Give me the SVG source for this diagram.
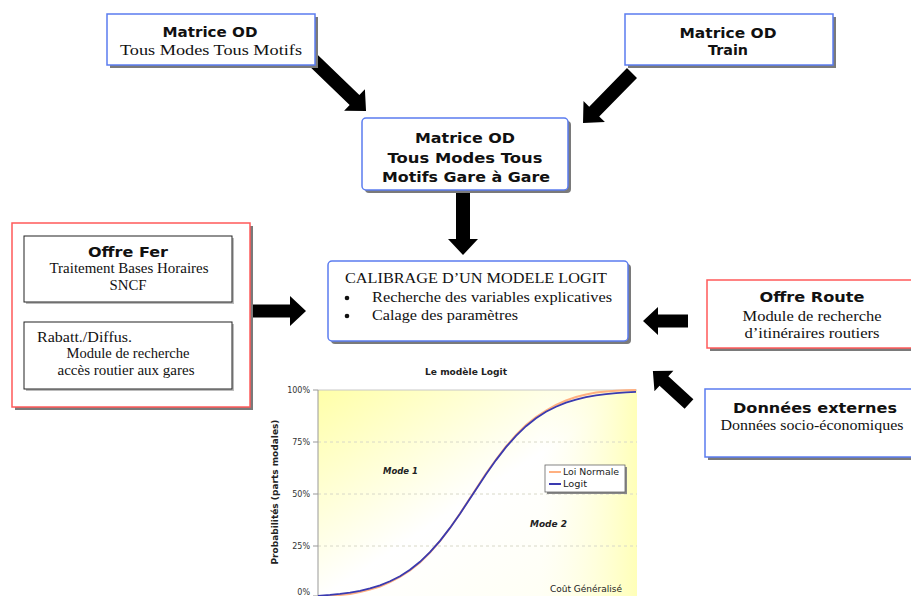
<svg xmlns="http://www.w3.org/2000/svg" width="911" height="596" viewBox="0 0 911 596">
<defs>
<style>
.bx{fill:#fff;stroke:#5b7cf0;stroke-width:1.5}
.rbx{fill:#fff;stroke:#ff5a5a;stroke-width:1.5}
.ibx{fill:#fff;stroke:#222;stroke-width:1}
.sh{fill:#7a7a7a}
.b{font-family:"DejaVu Sans",Verdana,sans-serif;font-weight:bold;font-size:14px;fill:#111;text-anchor:middle}
.s{font-family:"Liberation Serif","Times New Roman",serif;font-size:15px;fill:#111;text-anchor:middle}
.sl{font-family:"Liberation Serif","Times New Roman",serif;font-size:15px;fill:#111}
.arr{fill:#000}
.ax{font-family:"DejaVu Sans",Verdana,sans-serif;font-size:8px;fill:#333;text-anchor:end}
.ct{font-family:"DejaVu Sans",Verdana,sans-serif;font-size:9px;fill:#222}
</style>
<linearGradient id="pg" x1="0" y1="0" x2="1" y2="1">
<stop offset="0" stop-color="#ffffa8"/>
<stop offset="0.5" stop-color="#ffffff"/>
<stop offset="1" stop-color="#fffff0"/>
</linearGradient>
<linearGradient id="pg2" x1="0" y1="0" x2="1" y2="0">
<stop offset="0.7" stop-color="#ffffe0" stop-opacity="0"/>
<stop offset="1" stop-color="#ffffb8" stop-opacity="1"/>
</linearGradient>
</defs>
<rect x="0" y="0" width="911" height="596" fill="#fff"/>

<g id="connectors">
<polygon class="arr" transform="translate(313,60) rotate(43.9)" points="0,-7 57.6,-7 57.6,-15 73.6,0 57.6,15 57.6,7 0,7"/>
<polygon class="arr" transform="translate(632,73) rotate(134.4)" points="0,-7 54,-7 54,-15 70,0 54,15 54,7 0,7"/>
<polygon class="arr" transform="translate(463,190) rotate(90)" points="0,-7 49,-7 49,-15 65,0 49,15 49,7 0,7"/>
<polygon class="arr" transform="translate(252,311) rotate(0)" points="0,-6.5 38,-6.5 38,-15 54,0 38,15 38,6.5 0,6.5"/>
<polygon class="arr" transform="translate(688,321) rotate(180)" points="0,-6.5 30,-6.5 30,-14 45,0 30,14 30,6.5 0,6.5"/>
<polygon class="arr" transform="translate(689,404) rotate(222.5)" points="0,-6.5 34,-6.5 34,-14 49,0 34,14 34,6.5 0,6.5"/>
</g>

<g id="matrice-od-tmtm">
<rect class="sh" x="110" y="17" width="208" height="51"/>
<rect class="bx" x="107" y="14" width="208" height="51"/>
<text class="b" x="210" y="37" textLength="95" lengthAdjust="spacingAndGlyphs">Matrice OD</text>
<text class="s" x="211" y="55" textLength="182" lengthAdjust="spacingAndGlyphs">Tous Modes Tous Motifs</text>
</g>

<g id="matrice-od-train">
<rect class="sh" x="628" y="17" width="208" height="51"/>
<rect class="bx" x="625" y="14" width="208" height="51"/>
<text class="b" x="728" y="38" textLength="97" lengthAdjust="spacingAndGlyphs">Matrice OD</text>
<text class="b" x="728" y="55" textLength="40" lengthAdjust="spacingAndGlyphs">Train</text>
</g>

<g id="matrice-od-gare">
<rect class="sh" x="365" y="121" width="206" height="72" rx="4"/>
<rect class="bx" x="362" y="118" width="206" height="72" rx="4"/>
<text class="b" x="465" y="143" textLength="100" lengthAdjust="spacingAndGlyphs">Matrice OD</text>
<text class="b" x="465" y="163" textLength="155" lengthAdjust="spacingAndGlyphs">Tous Modes Tous</text>
<text class="b" x="466" y="182" textLength="168" lengthAdjust="spacingAndGlyphs">Motifs Gare à Gare</text>
</g>

<g id="offre-fer">
<rect class="sh" x="15" y="226" width="238" height="184"/>
<rect class="rbx" x="12" y="223" width="238" height="184"/>
<rect class="sh" x="26" y="238" width="208" height="66" opacity="0.5"/>
<rect class="ibx" x="24" y="236" width="208" height="66"/>
<text class="b" x="128" y="257" textLength="80" lengthAdjust="spacingAndGlyphs">Offre Fer</text>
<text class="s" x="129" y="273" textLength="159" lengthAdjust="spacingAndGlyphs">Traitement Bases Horaires</text>
<text class="s" x="128" y="290" textLength="37" lengthAdjust="spacingAndGlyphs">SNCF</text>
<rect class="sh" x="26" y="324" width="208" height="67" opacity="0.5"/>
<rect class="ibx" x="24" y="322" width="208" height="67"/>
<text class="sl" x="37" y="342" textLength="95" lengthAdjust="spacingAndGlyphs">Rabatt./Diffus.</text>
<text class="s" x="128" y="358" textLength="123" lengthAdjust="spacingAndGlyphs">Module de recherche</text>
<text class="s" x="126" y="375" textLength="137" lengthAdjust="spacingAndGlyphs">accès routier aux gares</text>
</g>

<g id="calibrage">
<rect class="sh" x="331" y="264" width="300" height="80" rx="4"/>
<rect class="bx" x="328" y="261" width="300" height="80" rx="4"/>
<text class="sl" x="345" y="283" textLength="262" lengthAdjust="spacingAndGlyphs">CALIBRAGE D’UN MODELE LOGIT</text>
<circle cx="347" cy="298" r="2.3" fill="#111"/>
<text class="sl" x="372" y="302" textLength="240" lengthAdjust="spacingAndGlyphs">Recherche des variables explicatives</text>
<circle cx="347" cy="316" r="2.3" fill="#111"/>
<text class="sl" x="372" y="320" textLength="146" lengthAdjust="spacingAndGlyphs">Calage des paramètres</text>
</g>

<g id="offre-route">
<rect class="sh" x="710" y="283" width="210" height="68"/>
<rect class="rbx" x="707" y="280" width="210" height="68"/>
<text class="b" x="812" y="302" textLength="105" lengthAdjust="spacingAndGlyphs">Offre Route</text>
<text class="s" x="812" y="321" textLength="139" lengthAdjust="spacingAndGlyphs">Module de recherche</text>
<text class="s" x="812" y="338" textLength="135" lengthAdjust="spacingAndGlyphs">d’itinéraires routiers</text>
</g>

<g id="donnees-externes">
<rect class="sh" x="708" y="392" width="212" height="68"/>
<rect class="bx" x="705" y="389" width="212" height="68"/>
<text class="b" x="815" y="413" textLength="164" lengthAdjust="spacingAndGlyphs">Données externes</text>
<text class="s" x="812" y="430" textLength="183" lengthAdjust="spacingAndGlyphs">Données socio-économiques</text>
</g>

<g id="chart">
<text class="ct" x="466" y="375" text-anchor="middle" font-weight="bold" textLength="82" lengthAdjust="spacingAndGlyphs">Le modèle Logit</text>
<rect x="318" y="390" width="319" height="210" fill="url(#pg)"/>
<rect x="318" y="390" width="319" height="210" fill="url(#pg2)"/>
<line x1="318" y1="390" x2="637" y2="390" stroke="#c8c8c8" stroke-width="1"/>
<g stroke="#d8d8c8" stroke-width="1" stroke-dasharray="3,3">
<line x1="318" y1="442" x2="637" y2="442"/>
<line x1="318" y1="494" x2="637" y2="494"/>
<line x1="318" y1="546" x2="637" y2="546"/>
</g>
<line x1="318" y1="390" x2="318" y2="600" stroke="#999" stroke-width="1"/>
<g stroke="#999" stroke-width="1">
<line x1="313" y1="390" x2="318" y2="390"/>
<line x1="313" y1="442" x2="318" y2="442"/>
<line x1="313" y1="494" x2="318" y2="494"/>
<line x1="313" y1="546" x2="318" y2="546"/>
<line x1="313" y1="596" x2="318" y2="596"/>
</g>
<text class="ax" x="310" y="393">100%</text>
<text class="ax" x="310" y="445">75%</text>
<text class="ax" x="310" y="497">50%</text>
<text class="ax" x="310" y="549">25%</text>
<text class="ax" x="310" y="595">0%</text>
<text class="ct" transform="translate(278,492) rotate(-90)" text-anchor="middle" font-size="8" font-weight="bold" textLength="145" lengthAdjust="spacingAndGlyphs">Probabilités (parts modales)</text>
<path d="M318,597 L330,596 L340,595 L350,594 L360,592 L370,589.5 L380,586.5 L390,582 L400,577 L410,570.5 L420,562.5 L430,552.5 L440,541 L450,528 L460,513.5 L473,493.5 L486,473.5 L496,459.5 L506,446.5 L516,435 L526,425 L536,417 L546,410.5 L556,405 L566,400.5 L576,397 L586,394.5 L596,392.5 L606,391.5 L616,390.8 L626,390.3 L636,390" fill="none" stroke="#ffb080" stroke-width="2"/>
<path d="M318,595.8 L330,594.9 L340,593.9 L350,592.6 L360,590.8 L370,588.4 L380,585.3 L390,581.3 L400,576.2 L410,569.8 L420,561.8 L430,552.2 L440,540.9 L450,527.9 L460,513.7 L473,494 L486,474.3 L496,460.1 L506,447.1 L516,435.8 L526,426.2 L536,418.2 L546,411.8 L556,406.7 L566,402.7 L576,399.6 L586,397.2 L596,395.4 L606,394.1 L616,393.1 L626,392.3 L636,391.8" fill="none" stroke="#3a3ab0" stroke-width="1.8"/>
<text class="ct" x="383" y="474" font-weight="bold" font-style="italic" font-size="8" textLength="35" lengthAdjust="spacingAndGlyphs">Mode 1</text>
<text class="ct" x="530" y="527" font-weight="bold" font-style="italic" font-size="8" textLength="37" lengthAdjust="spacingAndGlyphs">Mode 2</text>
<text class="ct" x="550" y="592" fill="#444" textLength="72" lengthAdjust="spacingAndGlyphs">Coût Généralisé</text>
<rect x="547" y="467" width="80" height="27" fill="#888"/>
<rect x="545" y="465" width="80" height="27" fill="#fff" stroke="#666" stroke-width="0.8"/>
<line x1="549" y1="472" x2="561" y2="472" stroke="#ffb080" stroke-width="2"/>
<text class="ct" x="563" y="475" font-size="8" textLength="56" lengthAdjust="spacingAndGlyphs">Loi Normale</text>
<line x1="549" y1="484" x2="561" y2="484" stroke="#3a3ab0" stroke-width="2"/>
<text class="ct" x="563" y="487" font-size="8" textLength="24" lengthAdjust="spacingAndGlyphs">Logit</text>
</g>
</svg>
